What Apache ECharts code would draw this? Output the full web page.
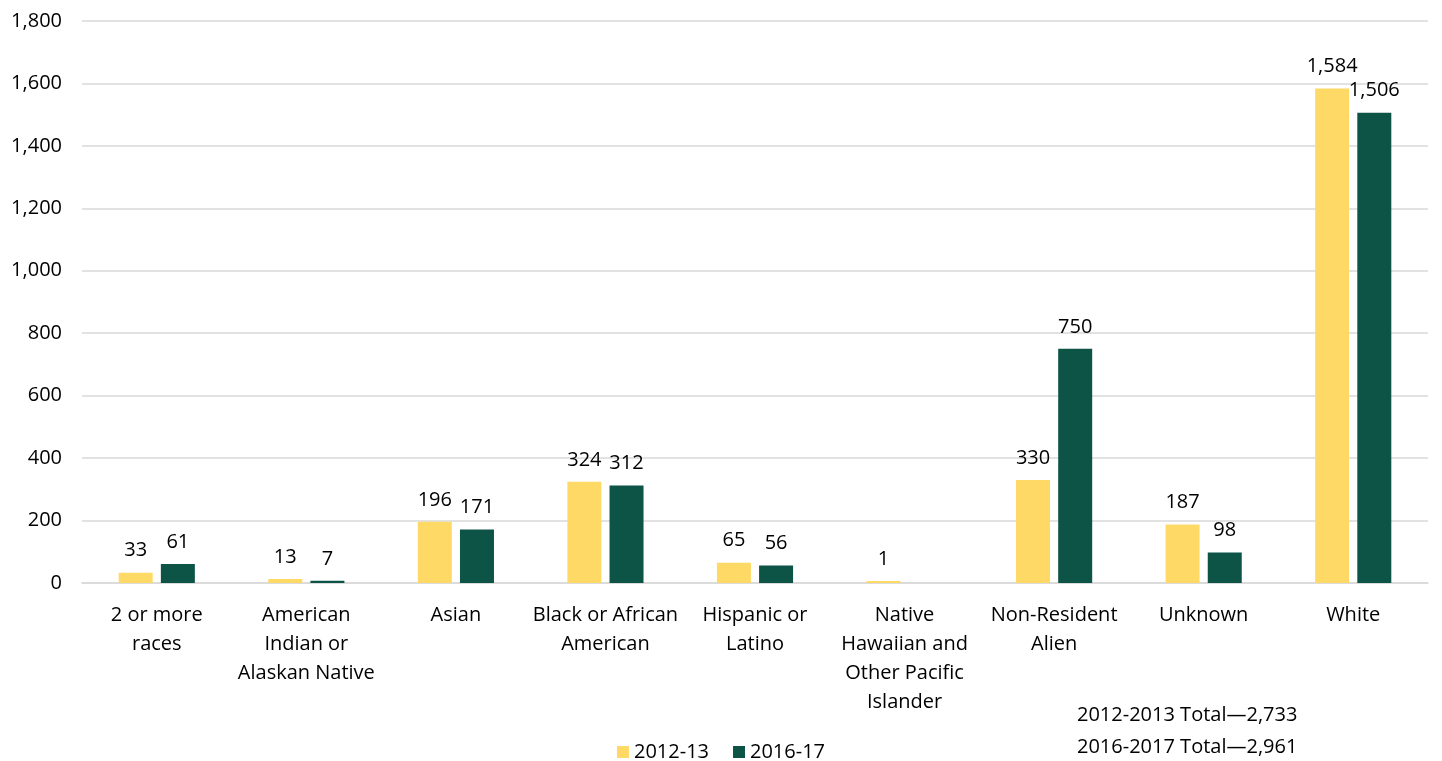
<!DOCTYPE html>
<html>
<head>
<meta charset="utf-8">
<script src="https://cdn.jsdelivr.net/npm/echarts@6/dist/echarts.min.js"></script>
<style>html,body{margin:0;padding:0;background:#fff;}#c{width:1442px;height:761px;}</style>
</head>
<body>
<div id="c"></div>
<script>
const categories = ['2 or more\nraces','American\nIndian or\nAlaskan Native','Asian','Black or African\nAmerican','Hispanic or\nLatino','Native\nHawaiian and\nOther Pacific\nIslander','Non-Resident\nAlien','Unknown','White'];
const series2012 = [33, 13, 196, 324, 65, 1, 330, 187, 1584];
const series2016 = [61, 7, 171, 312, 56, null, 750, 98, 1506];
const seriesNames = ['2012-13', '2016-17'];
const totals = ['2012-2013 Total\u20142,733', '2016-2017 Total\u20142,961'];

const FONT = '"Open Sans", "Noto Sans", sans-serif';
const FS = 20;
const chart = echarts.init(document.getElementById('c'));
const fmt = v => v.toLocaleString('en-US');
chart.setOption({
  animation: false,
  textStyle: {fontFamily: FONT},
  grid: {left: 82, right: 14, top: 21, bottom: 178, containLabel: false},
  legend: {
    data: seriesNames, bottom: -6, left: 'center', itemWidth: 12, itemHeight: 12, itemGap: 24,
    icon: 'rect', textStyle: {fontSize: FS, color: '#000', fontFamily: FONT}
  },
  xAxis: {
    type: 'category', data: categories,
    axisLine: {lineStyle: {color: '#d9d9d9', width: 1.5}},
    axisTick: {show: false},
    axisLabel: {interval: 0, fontSize: FS, color: '#000', lineHeight: 29, margin: 18, fontFamily: FONT}
  },
  yAxis: {
    type: 'value', min: 0, max: 1800, interval: 200,
    axisLine: {show: false}, axisTick: {show: false},
    splitLine: {lineStyle: {color: '#d9d9d9', width: 1.5}},
    axisLabel: {fontSize: FS, color: '#000', margin: 20, formatter: fmt, fontFamily: FONT}
  },
  series: [
    {name: seriesNames[0], type: 'bar', data: series2012, barWidth: 34, barGap: '24%', barMinHeight: 2,
     itemStyle: {color: '#FFD966'},
     label: {show: true, position: 'top', distance: 12, fontSize: FS, color: '#000', formatter: p => fmt(p.value), fontFamily: FONT}},
    {name: seriesNames[1], type: 'bar', data: series2016, barWidth: 34, barGap: '24%',
     itemStyle: {color: '#0D5447'},
     label: {show: true, position: 'top', distance: 12, fontSize: FS, color: '#000', formatter: p => fmt(p.value), fontFamily: FONT}}
  ],
  graphic: [
    {type: 'text', left: 1077, top: 705, style: {text: totals[0], font: FS + 'px ' + FONT, fill: '#000'}},
    {type: 'text', left: 1077, top: 737, style: {text: totals[1], font: FS + 'px ' + FONT, fill: '#000'}}
  ]
});
</script>
</body>
</html>
